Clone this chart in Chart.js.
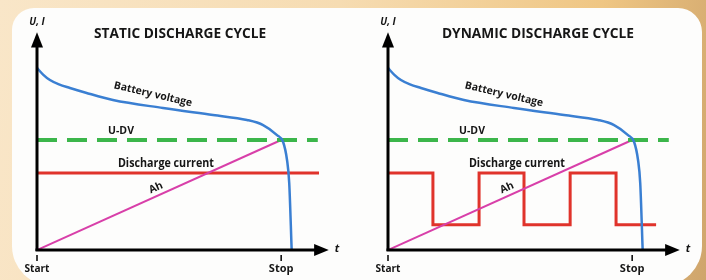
<!DOCTYPE html>
<html lang="en">
<head>
  <meta charset="UTF-8" />
  <script src="https://cdn.jsdelivr.net/npm/chart.js"></script>
  <title>Discharge cycles</title>
  <style>
    html, body {
      margin: 0;
      padding: 0;
      width: 706px;
      height: 280px;
      overflow: hidden;
      background: linear-gradient(100deg, #f9e6c8 0%, #f6dcb2 45%, #efc683 80%, #cfa56c 100%);
      position: relative;
    }
    .panel {
      position: absolute;
      left: 12px;
      top: 8px;
      width: 690px;
      height: 278px;
      background: #fdfdfc;
      border-radius: 22px 24px 40px 40px;
    }
    canvas {
      position: absolute;
      top: 0;
    }
  </style>
</head>
<body>
  <div class="panel"></div>
  <canvas id="staticChart" width="353" height="280" style="left:0"></canvas>
  <canvas id="dynamicChart" width="353" height="280" style="left:351px"></canvas>

  <script>
    // time axis: Start = 0, Stop = 100
    const tickValues = [0, 100];
    const tickLabels = ['Start', 'Stop'];

    // battery voltage curve
    const voltageX = [0, 2.5, 5.3, 9, 13.5, 20, 31.1, 51.6, 72.1, 86, 92.6, 98.3, 100.8, 102.4, 103.3, 104.3];
    const voltageY = [165.5, 159.5, 154.5, 150.5, 147.3, 143, 136.4, 129.1, 122.7, 118.2, 113.6, 104.5, 98.2, 81.8, 60.9, 0];

    // U-DV cut-off level
    const cutoffX = [0, 115];
    const cutoffY = [100, 100];

    // Ah (charge) line
    const ahX = [0, 100];
    const ahY = [0, 100];

    // discharge current
    const staticCurrentX = [0, 115.5];
    const staticCurrentY = [70, 70];
    const dynamicCurrentX = [0, 18.4, 37.3, 55.7, 74.6, 93.4, 109.8];
    const dynamicCurrentY = [70, 23, 70, 23, 70, 23, 23];

    const toPoints = (xs, ys) => xs.map((x, i) => ({ x: x, y: ys[i] }));

    const INK = '#161616';

    function drawText(ctx, text, x, y, font, maxW, angle) {
      ctx.save();
      ctx.translate(x, y);
      ctx.rotate((angle || 0) * Math.PI / 180);
      ctx.font = font;
      ctx.fillStyle = INK;
      ctx.textAlign = 'center';
      ctx.textBaseline = 'middle';
      if (maxW) ctx.fillText(text, 0, 0, maxW);
      else ctx.fillText(text, 0, 0);
      ctx.restore();
    }

    const decorPlugin = {
      id: 'decor',
      afterDatasetsDraw(chart, args, opts) {
        const ctx = chart.ctx;
        const xs = chart.scales.x, ys = chart.scales.y;
        const X = v => xs.getPixelForValue(v);
        const Y = v => ys.getPixelForValue(v);
        const x0 = X(0), y0 = Y(0);

        ctx.save();
        ctx.strokeStyle = '#000';
        ctx.fillStyle = '#000';
        ctx.lineWidth = 3;
        // y axis with arrow
        ctx.beginPath();
        ctx.moveTo(x0, y0 + 1);
        ctx.lineTo(x0, Y(186));
        ctx.stroke();
        ctx.beginPath();
        ctx.moveTo(x0, Y(198));
        ctx.lineTo(x0 - 6, Y(184));
        ctx.lineTo(x0 + 6, Y(184));
        ctx.closePath();
        ctx.fill();
        // x axis with arrow
        ctx.beginPath();
        ctx.moveTo(x0 - 1.5, y0);
        ctx.lineTo(X(114), y0);
        ctx.stroke();
        ctx.beginPath();
        ctx.moveTo(X(119.5), y0);
        ctx.lineTo(X(113.5), y0 - 6);
        ctx.lineTo(X(113.5), y0 + 6);
        ctx.closePath();
        ctx.fill();

        // tick marks and labels
        ctx.lineWidth = 1.5;
        tickValues.forEach((v, i) => {
          ctx.beginPath();
          ctx.moveTo(X(v), y0 + 5);
          ctx.lineTo(X(v), y0 + 11);
          ctx.stroke();
          drawText(ctx, tickLabels[i], X(v), y0 + 19, 'bold 11px "Open Sans"', 25);
        });
        ctx.restore();

        drawText(ctx, 'U, I', x0, Y(207), 'italic bold 10px "Open Sans"', 20);
        drawText(ctx, 't', X(122.9), y0 - 1, 'italic bold 11px "Open Sans"');
        drawText(ctx, opts.title, X(opts.titleX), Y(196.4), 'bold 14px "Open Sans"', opts.titleW);
        drawText(ctx, 'Battery voltage', X(47.5), Y(141.5), 'bold 10.5px "Open Sans"', 80, 13);
        drawText(ctx, 'U-DV', X(34.4), Y(108.2), 'bold 10.5px "Open Sans"', 27);
        drawText(ctx, 'Discharge current', X(52.8), Y(78.2), 'bold 11.5px "Open Sans"', 96);
        drawText(ctx, 'Ah', X(48.7), Y(56.4), 'bold 10.5px "Open Sans"', 15, -24);
      }
    };

    function makeChart(id, title, titleX, titleW, currentX, currentY, stepped) {
      return new Chart(document.getElementById(id), {
        type: 'line',
        data: {
          datasets: [
            {
              label: 'Battery voltage',
              data: toPoints(voltageX, voltageY),
              borderColor: '#3a7fd2',
              borderWidth: 2.5,
              cubicInterpolationMode: 'monotone',
              order: 1
            },
            {
              label: 'U-DV',
              data: toPoints(cutoffX, cutoffY),
              borderColor: '#3cb64b',
              borderWidth: 4,
              borderDash: [20, 10],
              order: 2
            },
            {
              label: 'Ah',
              data: toPoints(ahX, ahY),
              borderColor: '#d83fa9',
              borderWidth: 2,
              order: 3
            },
            {
              label: 'Discharge current',
              data: toPoints(currentX, currentY),
              borderColor: '#e0332b',
              borderWidth: 3,
              stepped: stepped,
              order: 4
            }
          ]
        },
        options: {
          responsive: false,
          animation: false,
          devicePixelRatio: 1,
          layout: { padding: { left: 37, top: 30, right: 23, bottom: 30 } },
          elements: { point: { radius: 0 }, line: { borderCapStyle: 'butt', fill: false } },
          scales: {
            x: { type: 'linear', min: 0, max: 120, display: false },
            y: { type: 'linear', min: 0, max: 200, display: false }
          },
          plugins: {
            legend: { display: false },
            tooltip: { enabled: false },
            decor: { title: title, titleX: titleX, titleW: titleW }
          }
        },
        plugins: [decorPlugin]
      });
    }

    makeChart('staticChart', 'STATIC DISCHARGE CYCLE', 58.6, 172, staticCurrentX, staticCurrentY, false);
    makeChart('dynamicChart', 'DYNAMIC DISCHARGE CYCLE', 61.4, 192, dynamicCurrentX, dynamicCurrentY, 'before');
  </script>
</body>
</html>
